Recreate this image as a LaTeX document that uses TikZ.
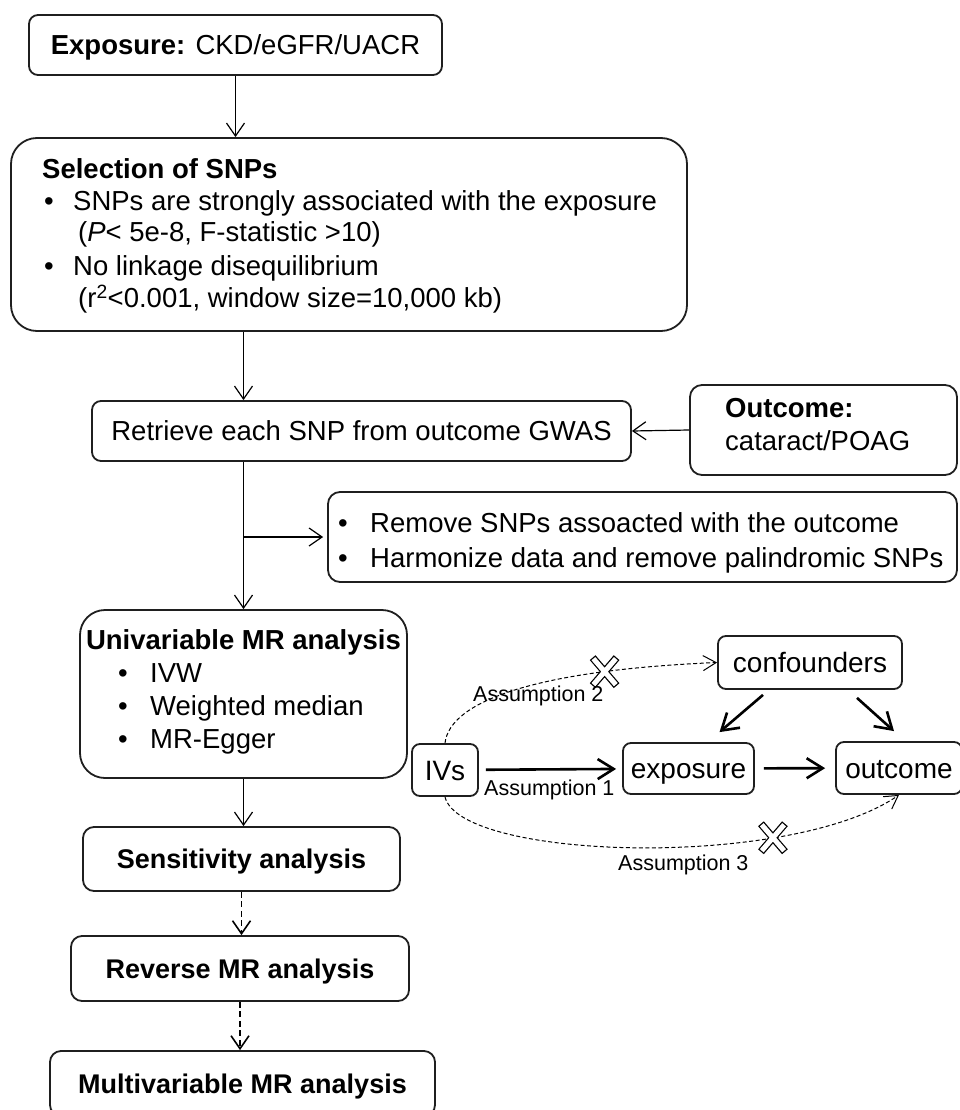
\documentclass[tikz,border=0pt]{standalone}
\usepackage{fontspec}
\setmainfont{Liberation Sans}
\usetikzlibrary{arrows.meta,calc}

% font sizes (1pt = 1 unit of the drawing)
\newcommand\flowfont{\fontsize{27.5}{33}\selectfont}
\newcommand\headfont{\fontsize{27}{32}\selectfont\bfseries}
\newcommand\causalfont{\fontsize{28}{33}\selectfont}
\newcommand\notefont{\fontsize{21.5}{26}\selectfont}

\tikzset{
  box/.style={draw=black!88, line width=1.8pt, rounded corners=#1, inner sep=0pt},
  box/.default=9pt,
  onetext/.style={font=\flowfont, text height=19.5pt, text depth=0pt},
  headtext/.style={font=\headfont, text height=19.5pt, text depth=0pt},
  ctext/.style={font=\causalfont, text height=20pt, text depth=0pt},
  txtline/.style={anchor=base west, inner sep=0pt, font=\flowfont},
  bul/.style={anchor=base, inner sep=0pt, font=\flowfont},
  note/.style={anchor=base west, inner sep=0pt, font=\notefont},
  farrow/.style={draw=black, line width=1.2pt, -{Straight Barb[length=13pt,width=18pt]}},
  dfarrow/.style={draw=black, line width=1.6pt, dash pattern=on 6pt off 3.5pt,
    -{Straight Barb[length=13pt,width=18pt]}},
  carrow/.style={draw=black, line width=2.6pt, -{Straight Barb[length=16pt,width=20pt]}},
  dcurve/.style={draw=black, line width=1pt, dash pattern=on 4pt off 2.5pt,
    -{Straight Barb[length=13pt,width=15pt]}},
  nocross/.pic={
    \draw[line width=7.5pt, black] (-12pt,-14pt) -- (12pt,14pt) (-12pt,14pt) -- (12pt,-14pt);
    \draw[line width=5pt, white] (-11.2pt,-13pt) -- (11.2pt,13pt) (-11.2pt,13pt) -- (11.2pt,-13pt);
  }
}

\begin{document}
\begin{tikzpicture}[x=1pt, y=-1pt]
\useasboundingbox (0,0) rectangle (959,1110);

% ---------- flowchart ----------
\node[box, onetext, minimum width=413pt, minimum height=60pt] (exp) at (235.5,45)
  {\textbf{Exposure:} CKD/eGFR/UACR};

\node[box=26pt, minimum width=676pt, minimum height=193pt] (sel) at (349,234.5) {};
\node[txtline, font=\flowfont\bfseries] (selT) at (42,178.5) {Selection of SNPs};
\node[bul] (selB1) at (49,211) {\textbullet};
\node[txtline] (selL1) at (73,211) {SNPs are strongly associated with the exposure};
\node[txtline] (selL2) at (78,241) {(\textit{P}< 5e-8, F-statistic >10)};
\node[bul] (selB2) at (49,275) {\textbullet};
\node[txtline] (selL3) at (73,275) {No linkage disequilibrium};
\node[txtline] (selL4) at (78,307.5) {(r\textsuperscript{2}<0.001, window size=10,000 kb)};

\node[box, onetext, minimum width=539pt, minimum height=60pt] (ret) at (361.5,431)
  {Retrieve each SNP from outcome GWAS};

\node[box=12pt, minimum width=267pt, minimum height=90pt] (outc) at (823.5,430) {};
\node[txtline, font=\flowfont\bfseries] (outcT) at (725,417) {Outcome:};
\node[txtline] (outcL) at (725,450) {cataract/POAG};

\node[box=12pt, minimum width=629pt, minimum height=90pt] (rem) at (642.5,537) {};
\node[bul] (remB1) at (343,532) {\textbullet};
\node[txtline] (remL1) at (370,532) {Remove SNPs assoacted with the outcome};
\node[bul] (remB2) at (343,567) {\textbullet};
\node[txtline] (remL2) at (370,567) {Harmonize data and remove palindromic SNPs};

\node[box=25pt, minimum width=327pt, minimum height=168pt] (uni) at (243.5,694) {};
\node[anchor=base, inner sep=0pt, font=\flowfont\bfseries] (uniT) at (243.5,649) {Univariable MR analysis};
\node[bul] (uniB1) at (123,682) {\textbullet};
\node[txtline] (uniL1) at (150,682) {IVW};
\node[bul] (uniB2) at (123,715) {\textbullet};
\node[txtline] (uniL2) at (150,715) {Weighted median};
\node[bul] (uniB3) at (123,748) {\textbullet};
\node[txtline] (uniL3) at (150,748) {MR-Egger};

\node[box=11pt, headtext, minimum width=317pt, minimum height=64pt] (sens) at (241.5,859) {Sensitivity analysis};
\node[box=11pt, headtext, minimum width=338pt, minimum height=65pt] (rev) at (240,968.5) {Reverse MR analysis};
\node[box=11pt, headtext, minimum width=385pt, minimum height=65pt] (mul) at (242.5,1083.5) {Multivariable MR analysis};

% flowchart connectors
\draw[farrow] (exp.south) -- (exp.south |- sel.north);
\draw[farrow] (sel.south -| uni.north) -- (ret.north -| uni.north);
\draw[farrow] (outc.west) -- (ret.east);
\draw[farrow] (ret.south -| uni.north) -- (uni.north);
\draw[farrow, shorten >=4pt] (rem.west -| uni.north) -- (rem.west);
\draw[farrow] (uni.south) -- (uni.south |- sens.north);
\draw[dfarrow] (sens.south) -- (sens.south |- rev.north);
\draw[dfarrow] (rev.south) -- (rev.south |- mul.north);

% ---------- causal diagram ----------
\node[box=8pt, ctext, minimum width=66pt, minimum height=52pt] (ivs) at (445,770) {IVs};
\node[box=8pt, ctext, minimum width=131pt, minimum height=51pt] (expo) at (688.5,768.5) {exposure};
\node[box=8pt, ctext, minimum width=126pt, minimum height=52pt] (out) at (899,768) {outcome};
\node[box=8pt, ctext, minimum width=184pt, minimum height=53pt] (conf) at (810,662.5) {confounders};

\draw[carrow, shorten <=7pt, shorten >=6pt] (ivs) -- (expo);
\draw[carrow, shorten <=9pt, shorten >=10pt] (expo) -- (out);
\draw[carrow] ($(conf.south)+(-47,5)$) -- ($(expo.north)+(31,-10)$);
\draw[carrow] ($(conf.south)+(47,8)$) -- ($(out.north)+(-5,-10)$);

\draw[dcurve] (ivs.north) .. controls (450,700) and (540,670) .. (conf.west) coordinate[pos=0.76] (x2);
\draw[dcurve] (ivs.south) .. controls (460,860) and (790,870) .. (out.south) coordinate[pos=0.73] (x3);
\pic at (x2) {nocross};
\pic at (x3) {nocross};

\node[note] (a1) at (484,795) {Assumption 1};
\node[note] (a2) at (473,701) {Assumption 2};
\node[note] (a3) at (618,870) {Assumption 3};
\end{tikzpicture}
\end{document}
